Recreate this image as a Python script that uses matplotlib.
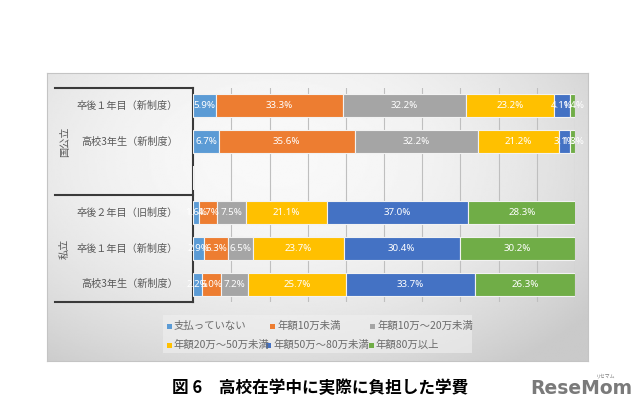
import numpy as np
import matplotlib
matplotlib.use('Agg')
import matplotlib.pyplot as plt
from matplotlib.lines import Line2D
from matplotlib.patches import Rectangle

plt.rcParams['font.family'] = ['Noto Sans CJK JP', 'DejaVu Sans']

# data (percent), one row per bar, top to bottom; empty name = spacer row
rows = ['卒後１年目（新制度）', '高校3年生（新制度）', '',
        '卒後２年目（旧制度）', '卒後１年目（新制度）', '高校3年生（新制度）']
groups = ['国公立', '私立']
series = ['支払っていない', '年額10万未満', '年額10万～20万未満',
          '年額20万～50万未満', '年額50万～80万未満', '年額80万以上']
colors = ['#5B9BD5', '#ED7D31', '#A5A5A5', '#FFC000', '#4472C4', '#70AD47']

not_paid = [5.9, 6.7, 0, 1.6, 2.9, 2.2]
under10 = [33.3, 35.6, 0, 4.7, 6.3, 5.0]
r10_20 = [32.2, 32.2, 0, 7.5, 6.5, 7.2]
r20_50 = [23.2, 21.2, 0, 21.1, 23.7, 25.7]
r50_80 = [4.1, 3.1, 0, 37.0, 30.4, 33.7]
over80 = [1.4, 1.3, 0, 28.3, 30.2, 26.3]
label_text = [
    ['5.9%', '33.3%', '32.2%', '23.2%', '4.1%', '1.4%'],
    ['6.7%', '35.6%', '32.2%', '21.2%', '3.1%', '1.3%'],
    None,
    ['1.6%', '4.7%', '7.5%', '21.1%', '37.0%', '28.3%'],
    ['2.9%', '6.3%', '6.5%', '23.7%', '30.4%', '30.2%'],
    ['2.2%', '5.0%', '7.2%', '25.7%', '33.7%', '26.3%'],
]
vals = np.array([not_paid, under10, r10_20, r20_50, r50_80, over80]) / 100.0

W, H = 640, 413
fig = plt.figure(figsize=(6.4, 4.13), dpi=100)

# gray gradient panel behind the chart
px0, py0, px1, py1 = 47, 73, 588, 361
bg = fig.add_axes([px0 / W, 1 - py1 / H, (px1 - px0) / W, (py1 - py0) / H])
gx, gy = np.meshgrid(np.linspace(0, 1, 300), np.linspace(0, 1, 200))
r2 = ((gx - 0.42) / 0.75) ** 2 + ((gy - 0.3) / 0.9) ** 2
grad = np.clip(0.975 - 0.19 * r2, 0.79, 1)
bg.imshow(grad, cmap='gray', vmin=0, vmax=1, aspect='auto', interpolation='bilinear')
bg.set_xticks([])
bg.set_yticks([])
for s in bg.spines.values():
    s.set_color('#c4c4c4')
    s.set_linewidth(0.8)

# main axes
ax_l, ax_r, ax_t, ax_b = 193.3, 575, 88, 302
ax = fig.add_axes([ax_l / W, 1 - ax_b / H, (ax_r - ax_l) / W, (ax_b - ax_t) / H])
ax.patch.set_alpha(0)
y = np.arange(len(rows))
left = np.zeros(len(rows))
for i in range(len(series)):
    ax.barh(y, vals[i], left=left, height=0.65, color=colors[i],
            edgecolor='#f2f2f2', linewidth=0.8, zorder=3, label=series[i])
    for j in range(len(rows)):
        if label_text[j] is None:
            continue
        ax.text(left[j] + vals[i][j] / 2, y[j], label_text[j][i], ha='center', va='center',
                color='white', fontsize=7, fontweight='bold',
                family=['Noto Sans', 'DejaVu Sans'], zorder=4)
    left += vals[i]

ax.set_xlim(0, 1)
ax.set_ylim(len(rows) - 0.5, -0.5)
ax.set_xticks(np.arange(0.1, 1.01, 0.1))
ax.set_xticklabels([])
ax.tick_params(length=0)
ax.set_yticks([])
ax.grid(axis='x', color='#bfbfbf', linewidth=0.8, zorder=0)
for s in ['top', 'right', 'bottom']:
    ax.spines[s].set_visible(False)
ax.spines['left'].set_color('#3a3a3a')
ax.spines['left'].set_linewidth(1.5)

# table-like category area on the left
xl = (55 - ax_l) / (ax_r - ax_l)
tr = ax.get_yaxis_transform()
for yy in [-0.5, 2.5, 5.5]:
    ax.add_line(Line2D([xl, 0], [yy, yy], transform=tr, color='#3a3a3a',
                       linewidth=1.5, clip_on=False))
for j, name in enumerate(rows):
    if name:
        ax.text(-0.04, y[j], name, transform=tr, ha='right', va='center',
                fontsize=7.3, color='#595959')
xg = (65 - ax_l) / (ax_r - ax_l)
ax.text(xg, 1.0, groups[0], transform=tr, rotation=90, ha='center', va='center',
        fontsize=7.3, color='#595959')
ax.text(xg, 4.0, groups[1], transform=tr, rotation=90, ha='center', va='center',
        fontsize=7.3, color='#595959')

# legend laid out like the original (two rows)
fig.patches.append(Rectangle((163 / W, 1 - 353 / H), (472 - 163) / W, (353 - 315) / H,
                             transform=fig.transFigure, facecolor='#f0f0f0',
                             alpha=0.6, edgecolor='none', zorder=1))
leg_pos = [(169, 326), (272, 326), (372, 326), (169, 345), (268, 345), (371, 345)]
for (lx, ly), name, c in zip(leg_pos, series, colors):
    fig.patches.append(Rectangle(((lx - 2.5) / W, 1 - (ly + 2.5) / H), 5 / W, 5 / H,
                                 transform=fig.transFigure, facecolor=c,
                                 edgecolor='none', zorder=2))
    fig.text((lx + 5) / W, 1 - ly / H, name, ha='left', va='center',
             fontsize=7.5, color='#6a6a6a')

# caption and watermark
fig.text(172 / W, 1 - 388 / H, '図 6　高校在学中に実際に負担した学費', ha='left',
         va='center', fontsize=12, fontweight='bold', color='black')
fig.text(530 / W, 1 - 389 / H, 'ReseMom', ha='left', va='center', fontsize=13.5,
         fontweight='bold', color='#7a7a7a', family=['DejaVu Sans'])
fig.text(606 / W, 1 - 376 / H, 'リセマム', ha='center', va='center', fontsize=3.5,
         color='#7a7a7a')

fig.savefig('out.png', dpi=100)
